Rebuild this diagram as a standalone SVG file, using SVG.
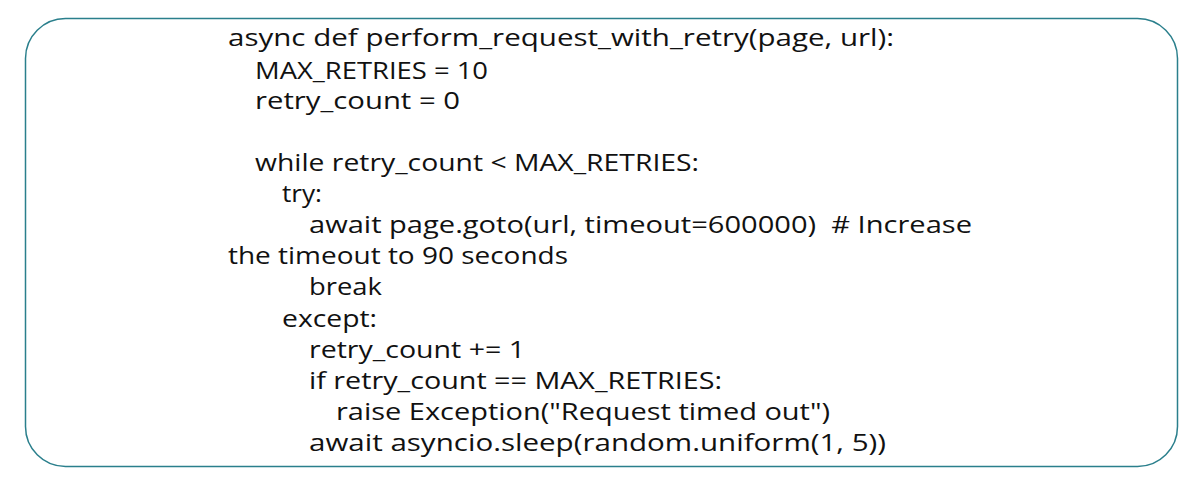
<svg xmlns="http://www.w3.org/2000/svg" width="1203" height="481" viewBox="0 0 1203 481">
<style>
text{font-family:"Open Sans","Liberation Sans",sans-serif;font-size:24px;fill:#111;white-space:pre}
</style>
<rect width="1203" height="481" fill="#fff"/>
<g id="box"><rect x="25.5" y="18.5" width="1152" height="448" rx="40" fill="#fff" stroke="#2a7f8c" stroke-width="1.5"/></g>
<g id="code">
<text x="228" y="46" textLength="666" lengthAdjust="spacingAndGlyphs">async def perform_request_with_retry(page, url):</text>
<text x="255" y="79" textLength="233" lengthAdjust="spacingAndGlyphs">MAX_RETRIES = 10</text>
<text x="255" y="109" textLength="205" lengthAdjust="spacingAndGlyphs">retry_count = 0</text>
<text x="255" y="171" textLength="444" lengthAdjust="spacingAndGlyphs">while retry_count &lt; MAX_RETRIES:</text>
<text x="282" y="202" textLength="40" lengthAdjust="spacingAndGlyphs">try:</text>
<text x="309" y="233" textLength="663" lengthAdjust="spacingAndGlyphs">await page.goto(url, timeout=600000)  # Increase</text>
<text x="228" y="264" textLength="340" lengthAdjust="spacingAndGlyphs">the timeout to 90 seconds</text>
<text x="309" y="295" textLength="73" lengthAdjust="spacingAndGlyphs">break</text>
<text x="282" y="327" textLength="95" lengthAdjust="spacingAndGlyphs">except:</text>
<text x="309" y="358" textLength="216" lengthAdjust="spacingAndGlyphs">retry_count += 1</text>
<text x="309" y="389" textLength="413" lengthAdjust="spacingAndGlyphs">if retry_count == MAX_RETRIES:</text>
<text x="336" y="420" textLength="494" lengthAdjust="spacingAndGlyphs">raise Exception("Request timed out")</text>
<text x="309" y="451" textLength="577" lengthAdjust="spacingAndGlyphs">await asyncio.sleep(random.uniform(1, 5))</text>
</g>
</svg>
